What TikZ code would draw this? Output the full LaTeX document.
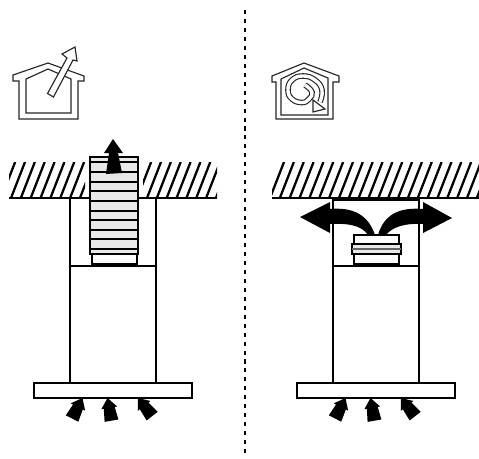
\documentclass[tikz,border=0pt]{standalone}
\usepackage{xcolor}
\usepackage{tikz}
\definecolor{ductgray}{HTML}{E8E8E8}
\tikzset{
    wall/.style={line width=1.5pt},
    thin wall/.style={line width=1.05pt},
    hatch/.style={line width=1.3pt},
    icon/.style={line width=0.65pt, draw=black!85},
    airflow/.pic={
        \fill (0,0) -- (8,10) -- (5.5,10) -- (7,23) -- (-7,23) -- (-5.5,10) -- (-8,10) -- cycle;
    }
}

\begin{document}
\begin{tikzpicture}[x=0.02cm, y=-0.02cm]
    \useasboundingbox (0,0) rectangle (479,458);

    % 1. Dotted divider
    \draw[line width=1pt, dash pattern=on 2.3pt off 2.8pt] (245,10) -- (245,458);

    % 2. Left icon: house with arrow going out
    \draw[icon, fill=white] (19,81) -- (13,81) -- (13,75) -- (48,63) -- (84,76) -- (84,81) -- (78,81)
        -- (78,119) -- (19,119) -- cycle;
    \draw[icon] (26,79) -- (48,69) -- (71,79) -- (71,113) -- (26,113) -- cycle;
    \draw[icon, fill=white] (47.5,93.5) -- (67,58) -- (62,54) -- (75,47) -- (77,61) -- (73,60)
        -- (53.5,97) -- cycle;

    % 3. Right icon: house with circulating arrow
    \draw[icon, fill=white] (276,82) -- (272,82) -- (272,76) -- (304,63) -- (339,76) -- (339,82) -- (333,82)
        -- (333,119) -- (276,119) -- cycle;
    \draw[icon] (281,79) -- (304,68) -- (328,78) -- (328,115) -- (281,115) -- cycle;
    \draw[icon, double=white, double distance=1.9pt] plot[smooth, tension=0.8] coordinates
        {(305,85) (312,92) (309,99) (302,102.5) (292,99) (288,90) (292,80) (303,76) (315,80) (322,90) (320,102)};
    \draw[icon, fill=white] (313,100) -- (325,109) -- (313,112) -- cycle;

    % 4. Left ceiling
    \begin{scope}
        \clip (9,162) rectangle (85,198);
        \foreach \i in {-1,...,7}
            \draw[hatch] ({11+9.85*\i},198) -- ({25+9.85*\i},162);
    \end{scope}
    \begin{scope}
        \clip (143,162) rectangle (217,198);
        \foreach \i in {-1,...,7}
            \draw[hatch] ({147+9.85*\i},198) -- ({161+9.85*\i},162);
    \end{scope}
    \draw[wall] (9,198) -- (90,198);
    \draw[wall] (138,198) -- (217,198);

    % 5. Left hood
    \draw[thin wall] (70,198) -- (70,383);
    \draw[thin wall] (156,198) -- (156,383);
    \draw[thin wall] (70,266) -- (156,266);
    \draw[wall, fill=white] (34,383) rectangle (192,398);

    % 6. Left duct
    \draw[thin wall, fill=white] (92,254) rectangle (137,264);
    \draw[thin wall, fill=ductgray] (90,157) rectangle (138,254);
    \foreach \y in {162,172,182,191,201,211,220,230,239,249}
        \draw[thin wall] (90,\y) -- (138,\y);

    % 7. Left arrows
    \fill (113,139) -- (123,153) -- (118,153) -- (122,173) -- (106,174) -- (109,153) -- (104,153) -- cycle;
    \pic[rotate=-27] at (82.5,398) {airflow};
    \pic[rotate=10] at (107.5,398) {airflow};
    \pic[rotate=38] at (138,398) {airflow};

    % 8. Right ceiling
    \begin{scope}
        \clip (272,162) rectangle (479,198);
        \foreach \i in {0,...,21}
            \draw[hatch] ({270+9.85*\i},198) -- ({284+9.85*\i},162);
    \end{scope}
    \draw[wall] (272,198) -- (479,198);

    % 9. Right hood
    \draw[thin wall] (333,198) -- (333,383);
    \draw[thin wall] (419,198) -- (419,383);
    \draw[thin wall] (333,200) -- (419,200);
    \draw[thin wall] (333,266) -- (419,266);
    \draw[wall, fill=white] (297,383) rectangle (455,398);

    % 10. Short duct
    \draw[thin wall, fill=white] (354,235) rectangle (399,264);
    \draw[thin wall, fill=ductgray] (352,244) rectangle (401,254);
    \draw[line width=0.6pt, draw=black!60] (352,249) -- (401,249);

    % 11. Right arrows
    \fill (300,217) -- (330,202) -- (330,209) .. controls (352,207) and (368,214) .. (375,235)
        -- (368,235) .. controls (362,226) and (350,223) .. (330,224) -- (330,233) -- cycle;
    \fill (452,218) -- (423,202) -- (423,209) .. controls (400,207) and (384,214) .. (378,235)
        -- (386,235) .. controls (392,227) and (405,223) .. (423,224) -- (423,233) -- cycle;
    \pic[rotate=-27] at (345.5,398) {airflow};
    \pic[rotate=10] at (370.5,398) {airflow};
    \pic[rotate=38] at (401,398) {airflow};
\end{tikzpicture}
\end{document}
